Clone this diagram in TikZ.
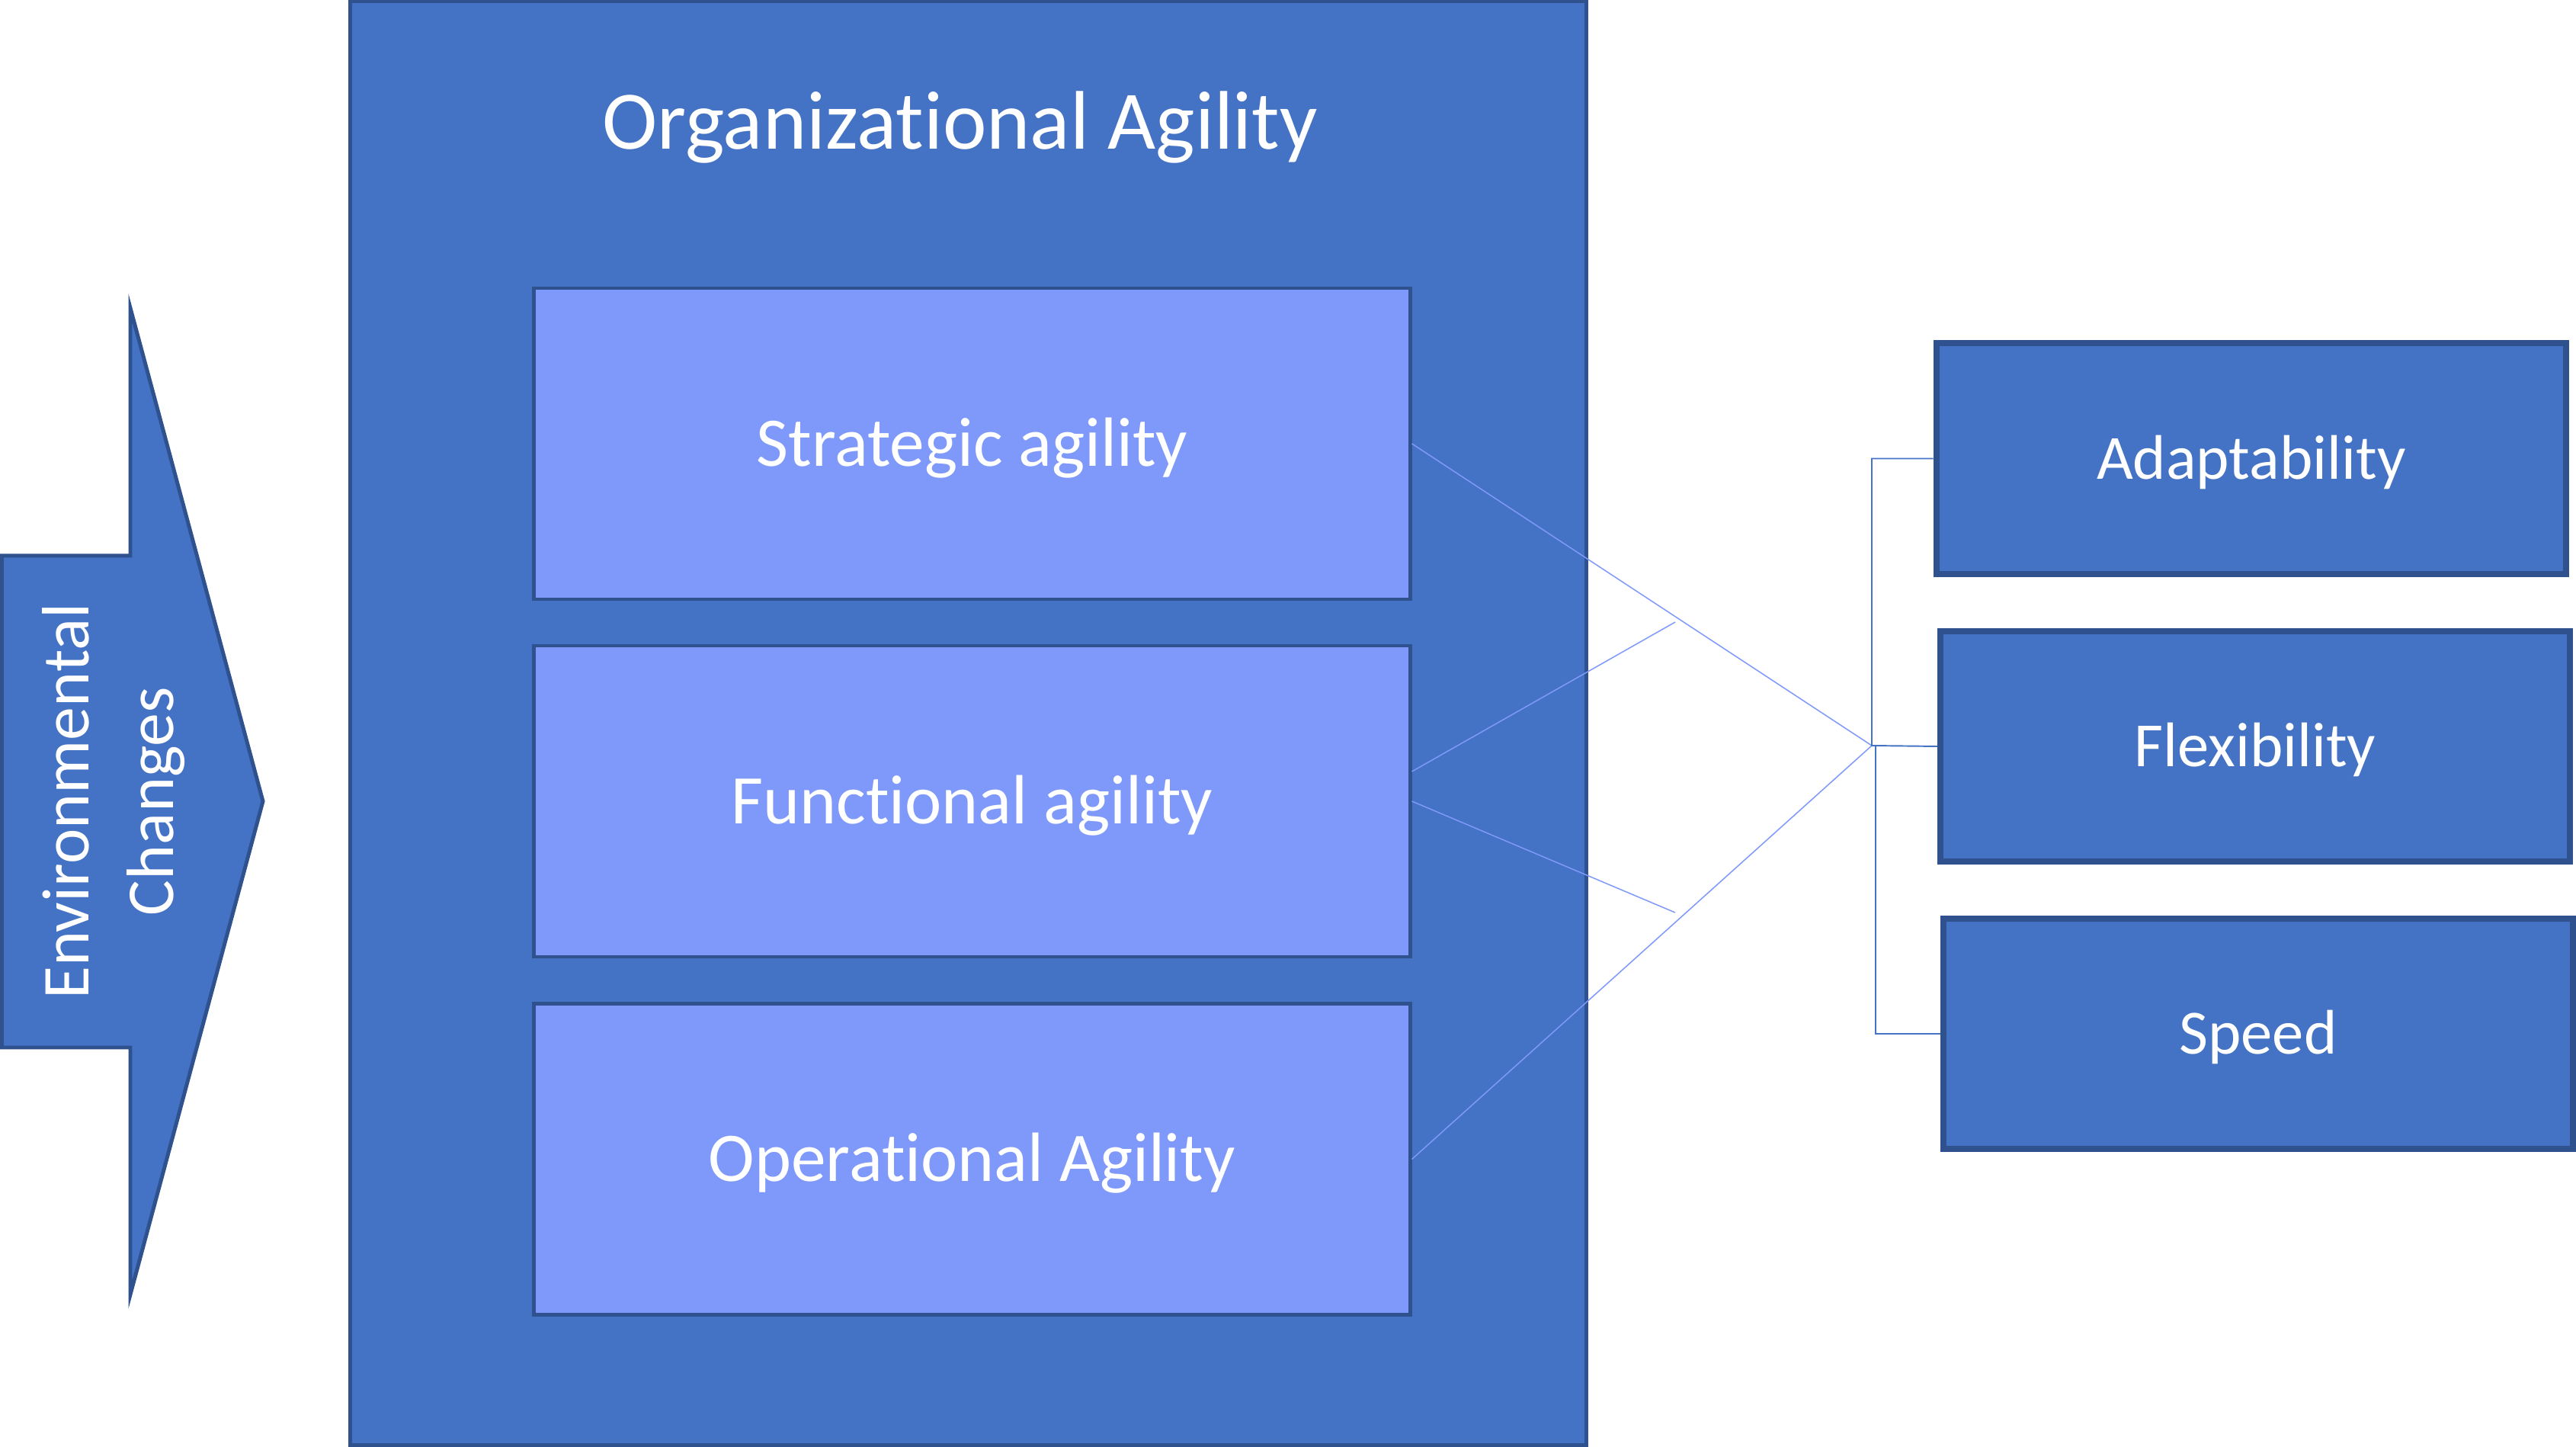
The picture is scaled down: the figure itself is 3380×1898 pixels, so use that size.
\documentclass[tikz,border=0pt]{standalone}
\usepackage{fontspec}
\setmainfont{Carlito}[RawFeature={-liga;-clig;-calt;-dlig}]
\definecolor{orgblue}{HTML}{4472C4}
\definecolor{orgline}{HTML}{2F528F}
\definecolor{agilblue}{HTML}{7F99FA}

\begin{document}
\begin{tikzpicture}[x=0.01cm, y=-0.01cm,
		outerbox/.style={draw=orgline, fill=orgblue, line width=1.42pt, minimum width=16.22cm, minimum height=18.93cm},
		agilitybox/.style={draw=orgline, fill=agilblue, line width=1.28pt, minimum width=11.49cm, minimum height=4.08cm, text=white, font=\fontsize{26}{31}\selectfont, text height=22.7pt, text depth=6pt},
		traitbox/.style={draw=orgline, fill=orgblue, line width=2.27pt, minimum width=8.26cm, minimum height=3.02cm, text=white, font=\fontsize{23.5}{28}\selectfont, text height=21.1pt, text depth=6pt},
		conn/.style={agilblue, line width=0.43pt},
		bracket/.style={orgblue, line width=0.55pt}]
			\useasboundingbox (0,0) rectangle (3380,1898);
			\draw[draw=orgline, fill=orgblue, line width=1.42pt] (2.5,729) -- (171,729) -- (171,404) -- (345,1051) -- (171,1698) -- (171,1374) -- (2.5,1374) -- cycle;
			\node[rotate=90, align=center, text=white, font=\fontsize{25}{31.5}\selectfont] (env) at (149,1051) {Environmental\\Changes};
			\node[outerbox] (org) at (1270.5,948.75) {};
			\node[anchor=base, text=white, font=\fontsize{31}{37}\selectfont] (orgtitle) at (1260,196) {Organizational Agility};
			\node[agilitybox] (strat) at (1275.5,582) {Strategic agility};
			\node[agilitybox] (func) at (1275.5,1051) {Functional agility};
			\node[agilitybox] (oper) at (1275.5,1520.5) {Operational Agility};
			\node[traitbox] (adapt) at (2953.75,601.5) {Adaptability};
			\node[traitbox] (flex) at (2959,979) {Flexibility};
			\node[traitbox] (speed) at (2963,1356) {Speed};
			\coordinate (hub) at (2456,978);
			\coordinate (hublow) at (2461,979);
			\coordinate (funcup) at (2198,816);
			\coordinate (funcdown) at (2198,1197);
			\draw[conn] (strat.east) -- (hub);
			\draw[conn] ([yshift=0.39cm]func.east) -- (funcup);
			\draw[conn] (func.east) -- (funcdown);
			\draw[conn] (oper.east) -- (hub);
			\draw[bracket] (adapt.west) -| (hub) -- (flex.west);
			\draw[bracket] (speed.west) -| (hublow);
		\end{tikzpicture}
\end{document}
